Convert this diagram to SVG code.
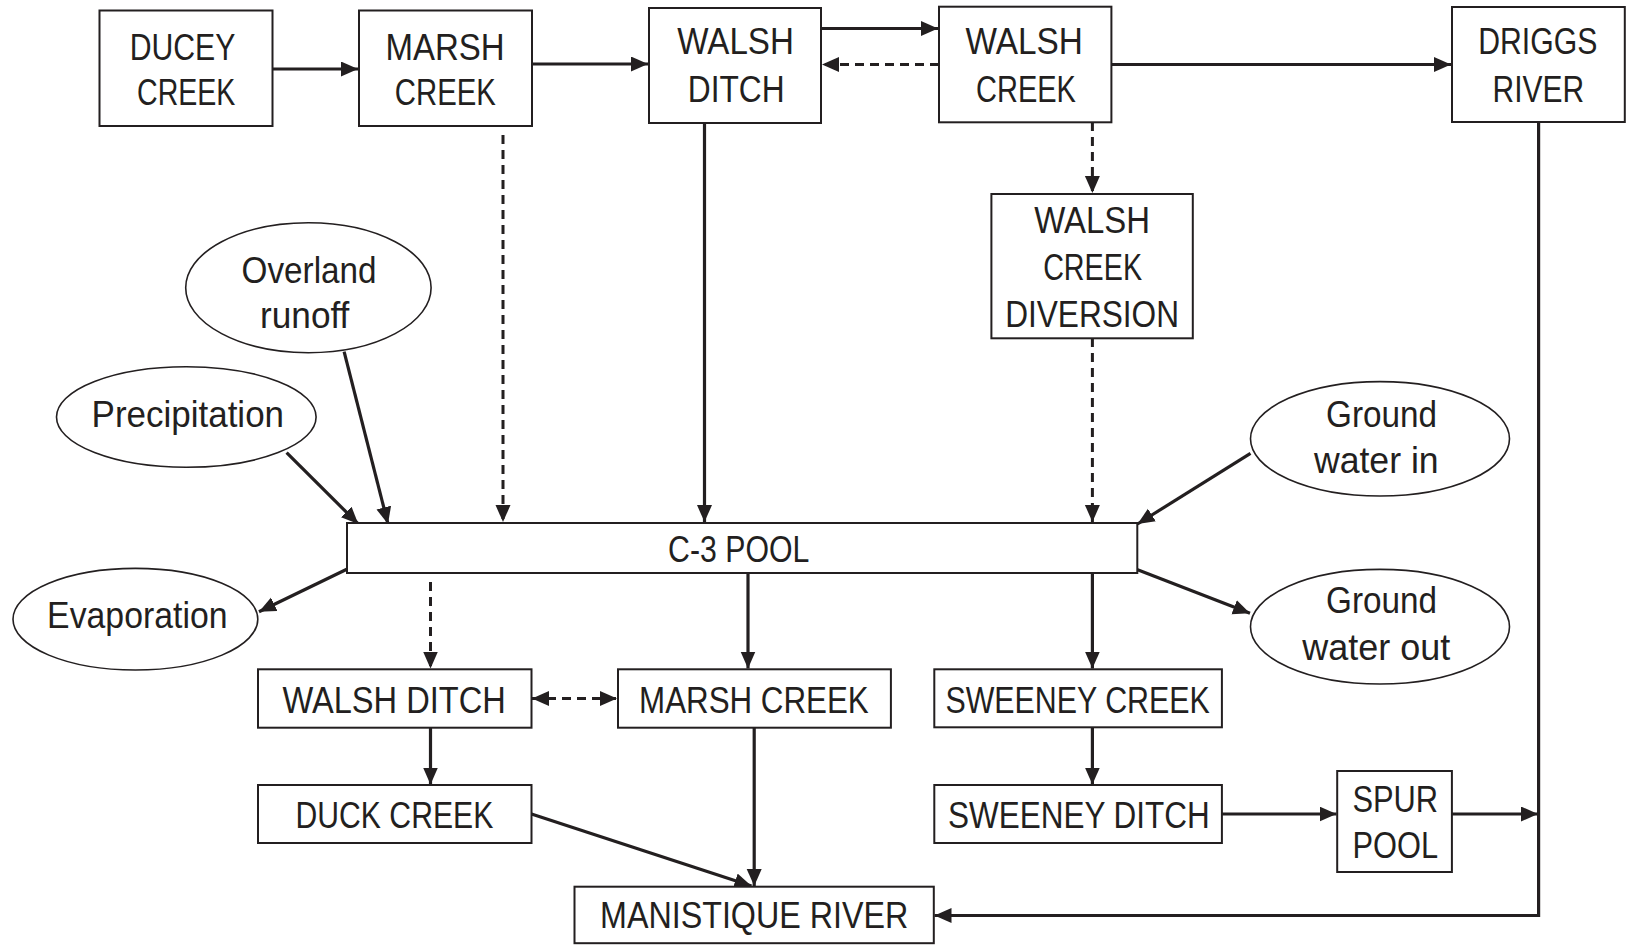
<svg xmlns="http://www.w3.org/2000/svg" width="1629" height="945" viewBox="0 0 1629 945">
<style>
.box{fill:#fff;stroke:#231f20;stroke-width:2}
.ell{fill:#fff;stroke:#231f20;stroke-width:1.6}
.t{font-family:"Liberation Sans",Arial,sans-serif;font-size:37px;fill:#231f20;text-anchor:middle}
.c{fill:none;stroke:#231f20;stroke-width:3.2}
.d{fill:none;stroke:#231f20;stroke-width:3;stroke-dasharray:9,6}
</style>
<defs>
<marker id="ah" markerUnits="userSpaceOnUse" markerWidth="20" markerHeight="16" refX="17" refY="7.5" orient="auto-start-reverse" viewBox="0 0 20 16">
<path d="M0,0 L17,7.5 L0,15 z" fill="#231f20"/>
</marker>
</defs>
<rect width="1629" height="945" fill="#fff"/>
<g id="connectors">
<line class="c" x1="272" y1="69" x2="358" y2="69" marker-end="url(#ah)"/>
<line class="c" x1="532" y1="64" x2="648" y2="64" marker-end="url(#ah)"/>
<line class="c" x1="821" y1="28.5" x2="938" y2="28.5" marker-end="url(#ah)"/>
<line class="d" x1="939" y1="64.5" x2="822" y2="64.5" marker-end="url(#ah)"/>
<line class="c" x1="1111" y1="64.5" x2="1451" y2="64.5" marker-end="url(#ah)"/>
<line class="d" x1="503" y1="135" x2="503" y2="522" marker-end="url(#ah)"/>
<line class="c" x1="704.5" y1="123" x2="704.5" y2="522" marker-end="url(#ah)"/>
<line class="d" x1="1092.4" y1="122" x2="1092.4" y2="193" marker-end="url(#ah)"/>
<line class="d" x1="1092.4" y1="338" x2="1092.4" y2="522" marker-end="url(#ah)"/>
<polyline class="c" points="1538.6,122 1538.6,915.5 934.5,915.5" marker-end="url(#ah)"/>
<line class="c" x1="286.6" y1="452.7" x2="358.3" y2="524" marker-end="url(#ah)"/>
<line class="c" x1="344.1" y1="351.7" x2="388" y2="524" marker-end="url(#ah)"/>
<line class="c" x1="1250.5" y1="453.3" x2="1137.5" y2="524" marker-end="url(#ah)"/>
<line class="c" x1="346.8" y1="569.3" x2="259" y2="611.7" marker-end="url(#ah)"/>
<line class="c" x1="1136.3" y1="569.3" x2="1250" y2="613.3" marker-end="url(#ah)"/>
<line class="d" x1="430.5" y1="582" x2="430.5" y2="668.5" marker-end="url(#ah)"/>
<line class="c" x1="748" y1="573" x2="748" y2="668.5" marker-end="url(#ah)"/>
<line class="c" x1="1092.4" y1="573" x2="1092.4" y2="668.5" marker-end="url(#ah)"/>
<line class="d" x1="532" y1="698.5" x2="617" y2="698.5" marker-start="url(#ah)" marker-end="url(#ah)"/>
<line class="c" x1="430.5" y1="728" x2="430.5" y2="784.5" marker-end="url(#ah)"/>
<line class="c" x1="1092.4" y1="727.5" x2="1092.4" y2="784.5" marker-end="url(#ah)"/>
<line class="c" x1="1222" y1="814" x2="1336.5" y2="814" marker-end="url(#ah)"/>
<line class="c" x1="1452" y1="814" x2="1538" y2="814" marker-end="url(#ah)"/>
<line class="c" x1="531.5" y1="814" x2="751.5" y2="886" marker-end="url(#ah)"/>
<line class="c" x1="754.2" y1="728" x2="754.2" y2="886" marker-end="url(#ah)"/>
</g>
<g id="ducey-creek"><rect class="box" x="99.5" y="10.5" width="173" height="115.5"/><text class="t" x="182.5" y="60" textLength="105.7" lengthAdjust="spacingAndGlyphs">DUCEY</text><text class="t" x="186.2" y="105" textLength="98.3" lengthAdjust="spacingAndGlyphs">CREEK</text></g>
<g id="marsh-creek-top"><rect class="box" x="359" y="10.5" width="173" height="115.5"/><text class="t" x="445.1" y="60" textLength="119.2" lengthAdjust="spacingAndGlyphs">MARSH</text><text class="t" x="445.3" y="105" textLength="101" lengthAdjust="spacingAndGlyphs">CREEK</text></g>
<g id="walsh-ditch-top"><rect class="box" x="649" y="8" width="172" height="115"/><text class="t" x="735.6" y="54.3" textLength="116.6" lengthAdjust="spacingAndGlyphs">WALSH</text><text class="t" x="736.2" y="101.7" textLength="96.8" lengthAdjust="spacingAndGlyphs">DITCH</text></g>
<g id="walsh-creek"><rect class="box" x="939" y="6.7" width="172.4" height="115.6"/><text class="t" x="1024.2" y="54.3" textLength="117.4" lengthAdjust="spacingAndGlyphs">WALSH</text><text class="t" x="1026" y="101.7" textLength="99.9" lengthAdjust="spacingAndGlyphs">CREEK</text></g>
<g id="driggs-river"><rect class="box" x="1452" y="7" width="172.8" height="115"/><text class="t" x="1537.8" y="54.3" textLength="119" lengthAdjust="spacingAndGlyphs">DRIGGS</text><text class="t" x="1538.3" y="101.7" textLength="91.5" lengthAdjust="spacingAndGlyphs">RIVER</text></g>
<g id="walsh-creek-diversion"><rect class="box" x="991.4" y="194" width="201.4" height="144.3"/><text class="t" x="1092.1" y="233.3" textLength="115.8" lengthAdjust="spacingAndGlyphs">WALSH</text><text class="t" x="1092.6" y="280" textLength="98.9" lengthAdjust="spacingAndGlyphs">CREEK</text><text class="t" x="1092.1" y="326.7" textLength="173.9" lengthAdjust="spacingAndGlyphs">DIVERSION</text></g>
<g id="overland-runoff"><ellipse class="ell" cx="308.4" cy="287.7" rx="122.7" ry="65"/><text class="t" x="309.1" y="283.3" textLength="135" lengthAdjust="spacingAndGlyphs">Overland</text><text class="t" x="304.7" y="328.3" textLength="89.4" lengthAdjust="spacingAndGlyphs">runoff</text></g>
<g id="precipitation"><ellipse class="ell" cx="186.3" cy="417" rx="129.8" ry="50.3"/><text class="t" x="187.8" y="426.7" textLength="192.5" lengthAdjust="spacingAndGlyphs">Precipitation</text></g>
<g id="ground-water-in"><ellipse class="ell" cx="1380" cy="438.8" rx="129.5" ry="57.2"/><text class="t" x="1381.6" y="426.7" textLength="111" lengthAdjust="spacingAndGlyphs">Ground</text><text class="t" x="1376.3" y="473.3" textLength="124.8" lengthAdjust="spacingAndGlyphs">water in</text></g>
<g id="c3-pool"><rect class="box" x="347" y="523" width="790.3" height="50"/><text class="t" x="738.7" y="561.7" textLength="141.2" lengthAdjust="spacingAndGlyphs">C-3 POOL</text></g>
<g id="evaporation"><ellipse class="ell" cx="135.4" cy="619.2" rx="122.4" ry="50.8"/><text class="t" x="137.3" y="628.3" textLength="180.4" lengthAdjust="spacingAndGlyphs">Evaporation</text></g>
<g id="ground-water-out"><ellipse class="ell" cx="1380" cy="626.7" rx="129.5" ry="57.3"/><text class="t" x="1381.6" y="613.3" textLength="111" lengthAdjust="spacingAndGlyphs">Ground</text><text class="t" x="1376.3" y="660" textLength="148" lengthAdjust="spacingAndGlyphs">water out</text></g>
<g id="walsh-ditch-bottom"><rect class="box" x="258" y="669.3" width="273.5" height="58.4"/><text class="t" x="394.1" y="712.7" textLength="223.3" lengthAdjust="spacingAndGlyphs">WALSH DITCH</text></g>
<g id="marsh-creek-bottom"><rect class="box" x="618" y="669.3" width="272.9" height="58.4"/><text class="t" x="753.9" y="712.7" textLength="229.7" lengthAdjust="spacingAndGlyphs">MARSH CREEK</text></g>
<g id="sweeney-creek"><rect class="box" x="934.3" y="669.3" width="287.6" height="58"/><text class="t" x="1077.6" y="712.7" textLength="264.4" lengthAdjust="spacingAndGlyphs">SWEENEY CREEK</text></g>
<g id="duck-creek"><rect class="box" x="258" y="785" width="273.5" height="58"/><text class="t" x="394.4" y="827.7" textLength="197.7" lengthAdjust="spacingAndGlyphs">DUCK CREEK</text></g>
<g id="sweeney-ditch"><rect class="box" x="934.3" y="785" width="287.6" height="58"/><text class="t" x="1078.9" y="827.7" textLength="261.7" lengthAdjust="spacingAndGlyphs">SWEENEY DITCH</text></g>
<g id="spur-pool"><rect class="box" x="1337.2" y="771" width="114.7" height="101"/><text class="t" x="1395.3" y="811.7" textLength="85.6" lengthAdjust="spacingAndGlyphs">SPUR</text><text class="t" x="1395.3" y="857.7" textLength="85.6" lengthAdjust="spacingAndGlyphs">POOL</text></g>
<g id="manistique-river"><rect class="box" x="574.5" y="886.7" width="359.3" height="56.5"/><text class="t" x="754.2" y="928.3" textLength="308.4" lengthAdjust="spacingAndGlyphs">MANISTIQUE RIVER</text></g>
</svg>
